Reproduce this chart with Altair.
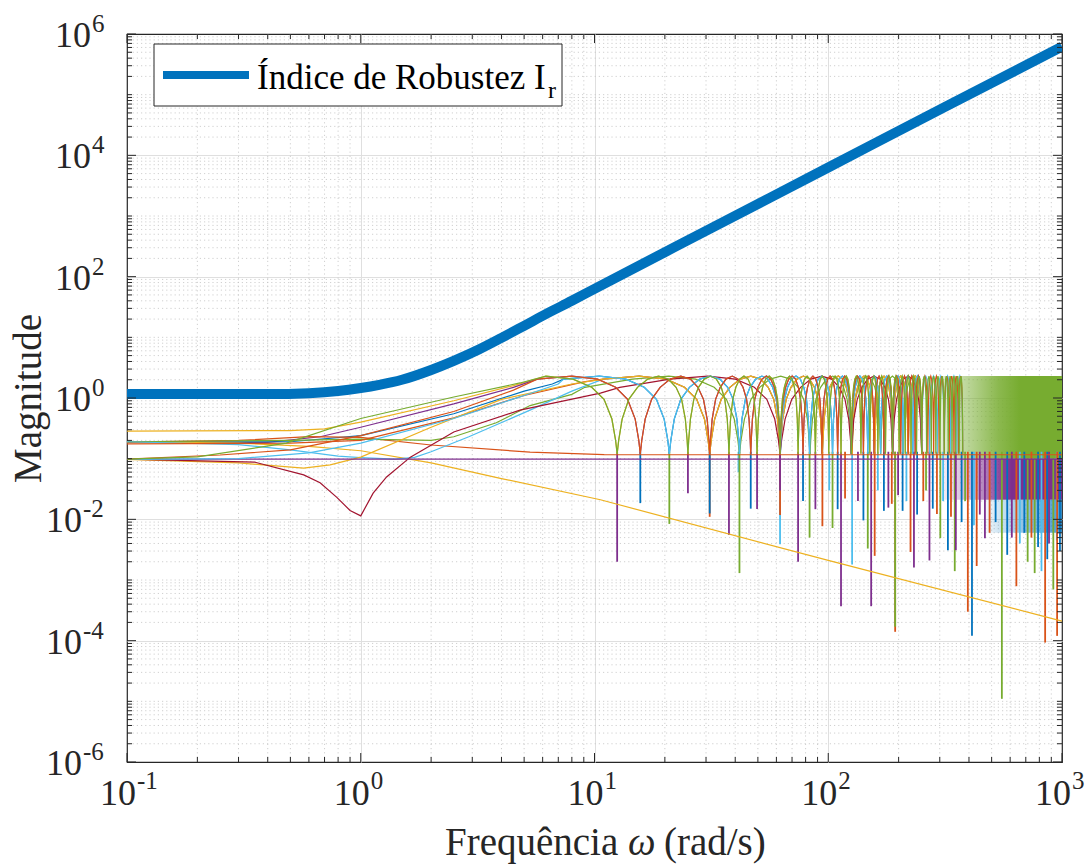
import altair as alt
import pandas as pd

W, H = 935, 728
FONT = "Liberation Serif"
INK = "#262626"

COL = {"blue": "#0072BD", "orange": "#D95319", "yellow": "#EDB120", "purple": "#7E2F8E",
       "green": "#77AC30", "cyan": "#4DBEEE", "red": "#A2142F"}

# ---------------- robustness index (thick blue) ----------------
ir_w = [0.1, 0.4, 0.6, 0.8, 1.0, 1.2, 1.5, 2.0, 2.5, 3.2, 4.0, 5.0, 6.3, 8.0, 10, 31.6, 100, 316, 1000]
ir_mag = [1.16, 1.16, 1.2, 1.3, 1.46, 1.65, 2.0, 2.9, 4.1, 6.3, 9.8, 15.5, 25, 40, 63, 630, 6300, 63000, 620000]

# ---------------- thin curves: low-frequency parts (read values) ----------------
yA_w = [0.1, 0.5, 0.7, 1.0, 2.5, 4.5]
yA_m = [0.285, 0.29, 0.31, 0.40, 0.90, 1.60]
pu_w = [0.1, 0.4, 0.67, 1.0, 2.5, 4.5]
pu_m = [0.188, 0.185, 0.23, 0.33, 0.80, 1.50]
bl_w = [0.1, 0.5, 1.0, 2.5, 5.0, 6.6]
bl_m = [0.188, 0.19, 0.24, 0.55, 1.30, 1.70]
oE_w = [0.1, 0.3, 0.6, 1.0, 2.0, 5.3, 11, 30, 1000]
oE_m = [0.188, 0.20, 0.23, 0.225, 0.168, 0.128, 0.117, 0.116, 0.116]
yC_w = [0.1, 0.3, 0.6, 1.0, 2.0, 4.0, 10.6, 100, 1000]
yC_m = [0.19, 0.18, 0.16, 0.135, 0.085, 0.047, 0.021, 0.0021, 0.00021]
g2_w = [0.1, 0.5, 1.0, 2.0, 2.5, 3.8, 5.3, 8.0]
g2_m = [0.19, 0.20, 0.21, 0.20, 0.23, 0.39, 0.75, 1.15]
c2_w = [0.1, 0.3, 0.5, 0.8, 1.0, 1.4, 1.7, 2.0, 2.9, 5.3, 8.0]
c2_m = [0.19, 0.17, 0.14, 0.11, 0.104, 0.098, 0.105, 0.13, 0.23, 0.63, 1.30]
o2_w = [0.1, 0.5, 1.0, 2.5, 5.0, 9.0]
o2_m = [0.175, 0.18, 0.20, 0.47, 1.10, 1.85]
yB_w = [0.1, 0.3, 0.57, 0.74, 1.0, 2.0, 4.0, 8.0]
yB_m = [0.097, 0.085, 0.07, 0.079, 0.106, 0.33, 0.95, 1.70]
dr_w = [0.1, 0.35, 0.57, 0.67, 0.79, 0.9, 1.0, 1.13, 1.29, 1.63, 2.5, 4.8, 10.6]
dr_m = [0.098, 0.088, 0.054, 0.04, 0.023, 0.014, 0.0114, 0.027, 0.05, 0.106, 0.275, 0.63, 1.20]
pf_w = [0.1, 1000]
pf_m = [0.098, 0.098]
gr_w = [0.1, 0.2, 0.48, 1.0, 2.5, 4.8]
gr_m = [0.098, 0.107, 0.18, 0.46, 1.04, 1.77]
or_w = [0.1, 0.25, 0.5, 1.0, 2.5, 4.5]
or_m = [0.098, 0.115, 0.14, 0.24, 0.60, 1.35]
cy_w = [0.1, 0.3, 0.6, 1.0, 2.5, 5.0, 7.0]
cy_m = [0.097, 0.10, 0.125, 0.18, 0.46, 1.10, 1.70]

# notch frequencies of the arch families (read / estimated from the picture)
N125 = [12.5, 25.1, 37.6, 49.6, 62.2, 74.3, 88.1, 100.5, 113.4, 125.6, 138.0, 150.6,
        163.0, 175.7, 188.3, 201.0, 213.5, 226.0, 238.5, 251.0]
N125x = N125 + [263.5, 276.0, 288.5, 301.0, 313.5, 326.0, 338.5, 351.0, 363.5, 376.0]
N156 = [15.7, 31.1, 46.6, 62.2, 78.0, 94.0, 109.7, 125.6, 141.4, 157.0, 173.0, 188.5,
        204.0, 219.8, 235.5, 251.0]
N156x = N156 + [266.7, 282.4, 298.0, 313.7, 329.4, 345.0, 360.7, 376.0]
N208 = [20.9, 41.7, 62.4, 83.2, 104.3, 125.5, 147.6, 167.5, 188.5, 209.0, 230.0, 251.0]
N208x = N208 + [271.7, 292.6, 313.5, 334.4, 355.3, 376.0]
N312 = [31.1, 62.2, 94.4, 126.5, 158.0, 188.5, 220.0, 251.0]
N417 = [41.7, 83.5, 125.5, 167.5, 209.0, 251.0]
N625 = [62.2, 125.5, 188.5, 251.0]

# shape of one arch between two notches (fraction of the gap -> magnitude), read from the arches
arch_frac = [0.015, 0.05, 0.12, 0.22, 0.35, 0.5, 0.65, 0.78, 0.88, 0.95, 0.985]
arch_mag = [0.2, 0.45, 0.95, 1.5, 2.05, 2.3, 2.05, 1.5, 0.95, 0.45, 0.2]
notch_floor = 0.12

# deep notch spikes: frequency, lowest magnitude, colour
spike_w = [12.5, 15.7, 20.9, 25.1, 31.1, 31.1, 37.6, 41.3, 41.7, 46.6, 49.6, 62.2, 62.2, 62.2,
           74.3, 78.0, 83.2, 88.1, 94.4,
           101, 104.3, 109.7, 113.4, 118, 126.5, 134, 141.4, 147.6, 152.6, 158.0, 163, 173.0,
           180.8, 187, 193.3, 193.3, 199, 208, 216, 224.9, 232.6, 240, 255, 262, 271, 280,
           291.7, 301.6, 310, 325, 335, 347.7, 351.4, 372, 385, 395.5, 412, 420, 431.5, 445,
           468, 490, 520, 553, 583, 610, 638, 660, 690, 713, 740, 764, 790, 817, 847, 865,
           880, 918, 950, 953, 980]
spike_min = [0.0020, 0.0185, 0.0084, 0.027, 0.011, 0.0125, 0.0055, 0.06, 0.0013, 0.015, 0.0148,
             0.0039, 0.0118, 0.03, 0.0020, 0.020, 0.0050, 0.0147, 0.0077,
             0.03, 0.0072, 0.0147, 0.00037, 0.022, 0.0018, 0.02, 0.0096, 0.0033, 0.00037,
             0.0025, 0.03, 0.0138, 0.0156, 0.018, 0.00014, 0.00017, 0.025, 0.0138, 0.02,
             0.0029, 0.0016, 0.012, 0.02, 0.03, 0.0021, 0.015, 0.0122, 0.0049, 0.02, 0.0031,
             0.011, 0.0014, 0.0031, 0.009, 0.02, 0.0003, 0.00012, 0.008, 0.0017, 0.012, 0.0049,
             0.006, 0.009, 0.000011, 0.0026, 0.005, 0.00079, 0.004, 0.006, 0.0020, 0.005,
             0.0013, 0.0035, 0.0014, 0.000093, 0.0022, 0.004, 0.0007, 0.0045, 0.00012, 0.003]
spike_col = ["purple", "blue", "green", "purple", "orange", "blue", "purple", "cyan", "green",
             "blue", "purple", "cyan", "orange", "purple", "purple", "blue", "green", "purple",
             "orange",
             "cyan", "green", "blue", "purple", "orange", "cyan", "purple", "blue", "green",
             "purple", "orange", "cyan", "blue", "purple", "orange", "orange", "green", "purple",
             "blue", "cyan", "orange", "purple", "blue", "orange", "green", "purple", "blue",
             "orange", "green", "cyan", "blue", "orange", "green", "purple", "blue", "green",
             "orange", "blue", "cyan", "orange", "purple", "purple", "orange", "blue", "green",
             "blue", "purple", "orange", "cyan", "blue", "green", "orange", "green", "blue",
             "cyan", "orange", "blue", "purple", "green", "cyan", "orange", "blue"]

# dense high-frequency bands (frequency span, upper / lower magnitude)
gband_w = [250, 1000]
gband_top = [2.3, 2.3]
gband_bot = [0.1, 0.1]
pband_w = [300, 1000]
pband_top = [0.1, 0.1]
pband_bot = [0.021, 0.021]
bband_w = [450, 1000]
bband_top = [0.021, 0.021]
bband_bot = [0.006, 0.006]

x_exps = [-1, 0, 1, 2, 3]
y_exps = [-6, -4, -2, 0, 2, 4, 6]


def build(low_w, low_m, notches):
    w = list(low_w)
    m = list(low_m)
    if notches:
        prev = 2 * notches[0] - notches[1]
        for n in notches:
            for f, v in zip(arch_frac, arch_mag):
                x = prev + f * (n - prev)
                if x > w[-1]:
                    w.append(x)
                    m.append(v)
            w.append(n)
            m.append(notch_floor)
            prev = n
    return pd.DataFrame({"w": w, "m": m})


series = [
    ("yellow", yA_w, yA_m, N125),
    ("purple", pu_w, pu_m, N156),
    ("blue", bl_w, bl_m, N208),
    ("orange", oE_w, oE_m, None),
    ("yellow", yC_w, yC_m, None),
    ("green", g2_w, g2_m, N417),
    ("cyan", c2_w, c2_m, N312),
    ("orange", o2_w, o2_m, N312),
    ("yellow", yB_w, yB_m, N312),
    ("red", dr_w, dr_m, N625),
    ("purple", pf_w, pf_m, None),
    ("cyan", cy_w, cy_m, N208x),
    ("orange", or_w, or_m, N156x),
    ("green", gr_w, gr_m, N125x),
]

XS = alt.Scale(type="log", domain=[0.1, 1000], nice=False)
YS = alt.Scale(type="log", domain=[1e-6, 1e6], nice=False)
XAX = alt.Axis(values=[1, 10, 100], grid=True, gridColor="#dfdfdf", gridWidth=1, labels=False,
               ticks=False, domain=False, title=None)
YAX = alt.Axis(values=[1e-4, 1e-2, 1, 1e2, 1e4], grid=True, gridColor="#dfdfdf", gridWidth=1,
               labels=False, ticks=False, domain=False, title="Magnitude", titleFont=FONT,
               titleFontSize=39, titleFontWeight="normal", titleColor=INK,
               titleBaseline="alphabetic", titleAlign="center", titleAngle=270,
               titleX=-87, titleY=364)


def X(f):
    return alt.X(f"{f}:Q", scale=XS, axis=XAX)


def Y(f):
    return alt.Y(f"{f}:Q", scale=YS, axis=YAX)


layers = []

# minor grid (dotted)
x_minor = [k * 10.0 ** d for d in range(-1, 3) for k in range(2, 10)]
y_minor = [k * 10.0 ** d for d in range(-6, 6) for k in range(2, 10)] + [10.0 ** e for e in range(-5, 6, 2)]
x_major = [10.0 ** e for e in x_exps]
y_major = [10.0 ** e for e in y_exps]

layers.append(alt.Chart(pd.DataFrame({"w": x_minor})).mark_rule(
    color="#c4c4c4", strokeWidth=0.8, strokeDash=[1.2, 3]).encode(x=X("w")))
layers.append(alt.Chart(pd.DataFrame({"v": y_minor})).mark_rule(
    color="#c4c4c4", strokeWidth=0.8, strokeDash=[1.2, 3]).encode(y=Y("v")))


def grad(rgb, stops):
    return alt.Gradient(gradient="linear", x1=0, x2=1, y1=0, y2=0,
                        stops=[alt.GradientStop(color=f"rgba({rgb},{a})", offset=o) for o, a in stops])


layers.append(alt.Chart(pd.DataFrame({"w": gband_w, "t": gband_top, "b": gband_bot})).mark_area(
    color=grad("119,172,48", [(0, 0.0), (0.3, 0.45), (0.55, 0.85), (0.7, 1.0), (1, 1.0)])
).encode(x=X("w"), y=Y("t"), y2=alt.Y2("b")))
layers.append(alt.Chart(pd.DataFrame({"w": pband_w, "t": pband_top, "b": pband_bot})).mark_area(
    color=grad("126,47,142", [(0, 0.05), (0.3, 0.45), (0.5, 0.9), (0.6, 1.0), (1, 1.0)])
).encode(x=X("w"), y=Y("t"), y2=alt.Y2("b")))
layers.append(alt.Chart(pd.DataFrame({"w": bband_w, "t": bband_top, "b": bband_bot})).mark_area(
    color=grad("0,114,189", [(0, 0.0), (0.55, 0.45), (1, 0.7)])
).encode(x=X("w"), y=Y("t"), y2=alt.Y2("b")))

# spikes
sp = pd.DataFrame({"w": spike_w, "top": [0.13] * len(spike_w), "m": spike_min, "c": spike_col})
layers.append(alt.Chart(sp).mark_rule(strokeWidth=1.8).encode(
    x=X("w"), y=Y("top"), y2=alt.Y2("m"),
    color=alt.Color("c:N", scale=alt.Scale(domain=list(COL.keys()), range=list(COL.values())),
                    legend=None)))

# thin curves
for cname, lw, lm, fam in series:
    layers.append(alt.Chart(build(lw, lm, fam)).mark_line(
        color=COL[cname], strokeWidth=1.2, clip=True).encode(x=X("w"), y=Y("m")))

# thick robustness index
layers.append(alt.Chart(pd.DataFrame({"w": ir_w, "m": ir_mag})).mark_line(
    color=COL["blue"], strokeWidth=10, clip=True, interpolate="monotone").encode(x=X("w"), y=Y("m")))


# inward ticks (box on all four sides)
def xticks(vals, ln):
    d = pd.DataFrame({"w": vals})
    return [alt.Chart(d).mark_rule(color=INK, strokeWidth=1).encode(x=X("w"), y=alt.value(H), y2=alt.value(H - ln)),
            alt.Chart(d).mark_rule(color=INK, strokeWidth=1).encode(x=X("w"), y=alt.value(0), y2=alt.value(ln))]


def yticks(vals, ln):
    d = pd.DataFrame({"v": vals})
    return [alt.Chart(d).mark_rule(color=INK, strokeWidth=1).encode(y=Y("v"), x=alt.value(0), x2=alt.value(ln)),
            alt.Chart(d).mark_rule(color=INK, strokeWidth=1).encode(y=Y("v"), x=alt.value(W), x2=alt.value(W - ln))]


layers += xticks(x_major, 9) + xticks(x_minor, 5) + yticks(y_major, 9) + yticks(y_minor, 5)

# tick labels 10^n
xl = pd.DataFrame({"w": x_major, "b": ["10"] * len(x_exps), "e": [str(e) for e in x_exps]})
layers.append(alt.Chart(xl).mark_text(font=FONT, fontSize=36, color=INK, align="right",
                                      baseline="alphabetic", dx=9).encode(x=X("w"), y=alt.value(H + 43), text="b:N"))
layers.append(alt.Chart(xl).mark_text(font=FONT, fontSize=25, color=INK, align="left",
                                      baseline="alphabetic", dx=10).encode(x=X("w"), y=alt.value(H + 27), text="e:N"))

yl = pd.DataFrame({"v": y_major, "b": ["10"] * len(y_exps), "e": [str(e) for e in y_exps],
                   "neg": [e < 0 for e in y_exps]})
for neg, xr in [(False, -36), (True, -45)]:
    sub = yl[yl["neg"] == neg]
    layers.append(alt.Chart(sub).mark_text(font=FONT, fontSize=36, color=INK, align="right",
                                           baseline="alphabetic", dy=13).encode(y=Y("v"), x=alt.value(xr), text="b:N"))
    layers.append(alt.Chart(sub).mark_text(font=FONT, fontSize=25, color=INK, align="left",
                                           baseline="alphabetic", dy=-2).encode(y=Y("v"), x=alt.value(xr + 1), text="e:N"))

# x-axis title with italic omega
one = pd.DataFrame({"k": [0]})
for txt, xpos, style in [("Frequência", 318, "normal"), ("ω", 501, "italic"), ("(rad/s)", 537, "normal")]:
    layers.append(alt.Chart(one).mark_text(font=FONT, fontSize=39, color=INK, align="left",
                                           baseline="alphabetic", fontStyle=style, text=txt).encode(
        x=alt.value(xpos), y=alt.value(H + 93)))

# legend box
layers.append(alt.Chart(one).mark_rect(fill="white", stroke=INK, strokeWidth=1).encode(
    x=alt.value(27), x2=alt.value(435), y=alt.value(10), y2=alt.value(72)))
layers.append(alt.Chart(one).mark_rule(color=COL["blue"], strokeWidth=8).encode(
    x=alt.value(36), x2=alt.value(122), y=alt.value(41)))
layers.append(alt.Chart(one).mark_text(font=FONT, fontSize=35, color="black", align="left",
                                       baseline="alphabetic", text="Índice de Robustez I").encode(
    x=alt.value(130), y=alt.value(55)))
layers.append(alt.Chart(one).mark_text(font=FONT, fontSize=24, color="black", align="left",
                                       baseline="alphabetic", text="r").encode(
    x=alt.value(421), y=alt.value(64)))

chart = alt.layer(*layers).properties(
    width=W, height=H,
    padding={"left": 127, "top": 34, "right": 29, "bottom": 106},
    autosize=alt.AutoSizeParams(type="none"),
    background="white",
).configure_view(stroke=INK, strokeWidth=1.2)

chart.save("out.html", embed_options={"renderer": "svg", "actions": False})
